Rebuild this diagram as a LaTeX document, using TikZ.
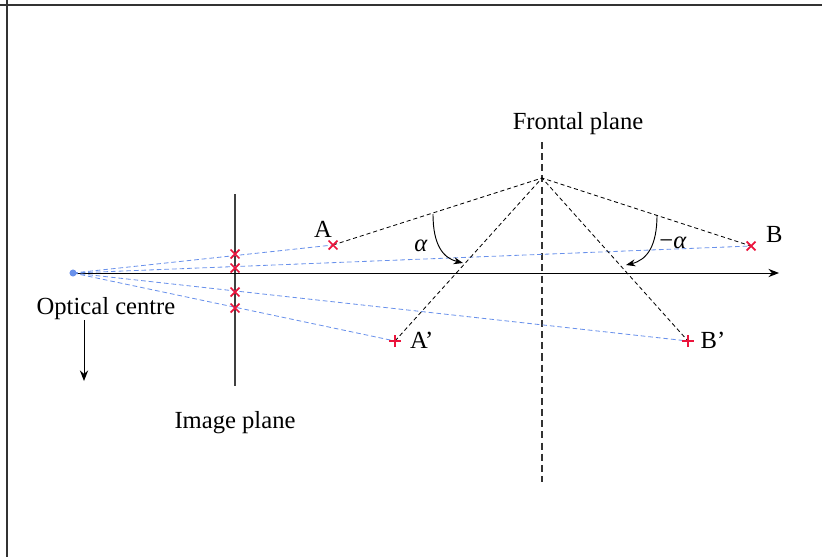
\documentclass[tikz,border=0pt]{standalone}
\usepackage{fontspec}
\setmainfont{Liberation Serif}
\usetikzlibrary{arrows.meta,positioning,shapes.misc}
\definecolor{raybl}{RGB}{105,145,235}
\definecolor{markred}{RGB}{235,20,60}

\begin{document}
\begin{tikzpicture}[x=0.03cm,y=-0.03cm,>=Stealth,
  lbl/.style={font=\fontsize{21}{25}\selectfont,inner sep=0pt},
  xm/.style={draw=markred,cross out,line width=1.5pt,minimum size=6pt,inner sep=0pt},
  pm/.style={xm,rotate=45},
  ray/.style={raybl,line width=0.7pt,dash pattern=on 4pt off 2.5pt},
  sight/.style={black,line width=0.7pt,dash pattern=on 3.5pt off 2.5pt}]
\useasboundingbox (0,0) rectangle (822,557);
\draw[line width=1.5pt,black!80] (0,5) -- (822,5) (7,0) -- (7,557);
% points
\coordinate (O) at (73,273); \coordinate (F) at (542,178);
\coordinate (A) at (333,245); \coordinate (B) at (751,246);
\coordinate (Ap) at (395,341); \coordinate (Bp) at (688,341);
\coordinate (ip1) at (235,194); \coordinate (ip2) at (235,386);
\coordinate (fp1) at (542,142); \coordinate (fp2) at (542,482);
\coordinate (ax) at (779,273);
\coordinate (d1) at (84,320); \coordinate (d2) at (84,381);
% planes and axis
\draw[line width=0.9pt,black!75] (ip1) -- (ip2);
\draw[line width=1.6pt,black!80,dash pattern=on 6pt off 3.5pt] (fp1) -- (fp2);
\draw[line width=0.8pt,-{Stealth[length=9pt,width=7pt]}] (O) -- (ax);
\draw[line width=0.8pt,-{Stealth[length=9pt,width=7pt]}] (d1) -- (d2);
% rays
\draw[ray] (O) -- (A); \draw[ray] (O) -- (B);
\draw[ray] (O) -- (Ap); \draw[ray] (O) -- (Bp);
\draw[sight] (A) -- (F) -- (B);
\draw[sight] (Ap) -- (F) -- (Bp);
% angles
\draw[line width=0.8pt,-{Stealth[length=8pt,width=6pt]}] (433,214) .. controls (433,245) and (443,258) .. (463,263);
\draw[line width=0.8pt,-{Stealth[length=8pt,width=6pt]}] (657,215) .. controls (657,246) and (647,260) .. (626,265);
% marks
\node[circle,fill=raybl,minimum size=6pt,inner sep=0pt] (oc) at (O) {};
\node[xm] (mA) at (A) {}; \node[xm] (mB) at (B) {};
\node[pm] (mAp) at (Ap) {}; \node[pm] (mBp) at (Bp) {};
\node[xm] (iA) at (235,254) {};
\node[xm] (iB) at (235,268) {};
\node[xm] (iBp) at (235,292) {};
\node[xm] (iAp) at (235,308) {};
% labels
\node[lbl] (lA) at (323,229) {A};
\node[lbl,right=9pt of mB,yshift=10pt] (lB) {B};
\node[lbl,right=10pt of mAp,yshift=-2pt] (lAp) {A’};
\node[lbl,right=8pt of mBp,yshift=-2pt] (lBp) {B’};
\node[lbl] (alph) at (421,246) {\textit{α}};
\node[lbl] (malph) at (673,243) {−\textit{α}};
\node[lbl] (fron) at (578,124) {Frontal plane};
\node[lbl] (opt) at (106,309) {Optical centre};
\node[lbl] (img) at (235,423) {Image plane};
\end{tikzpicture}
\end{document}
